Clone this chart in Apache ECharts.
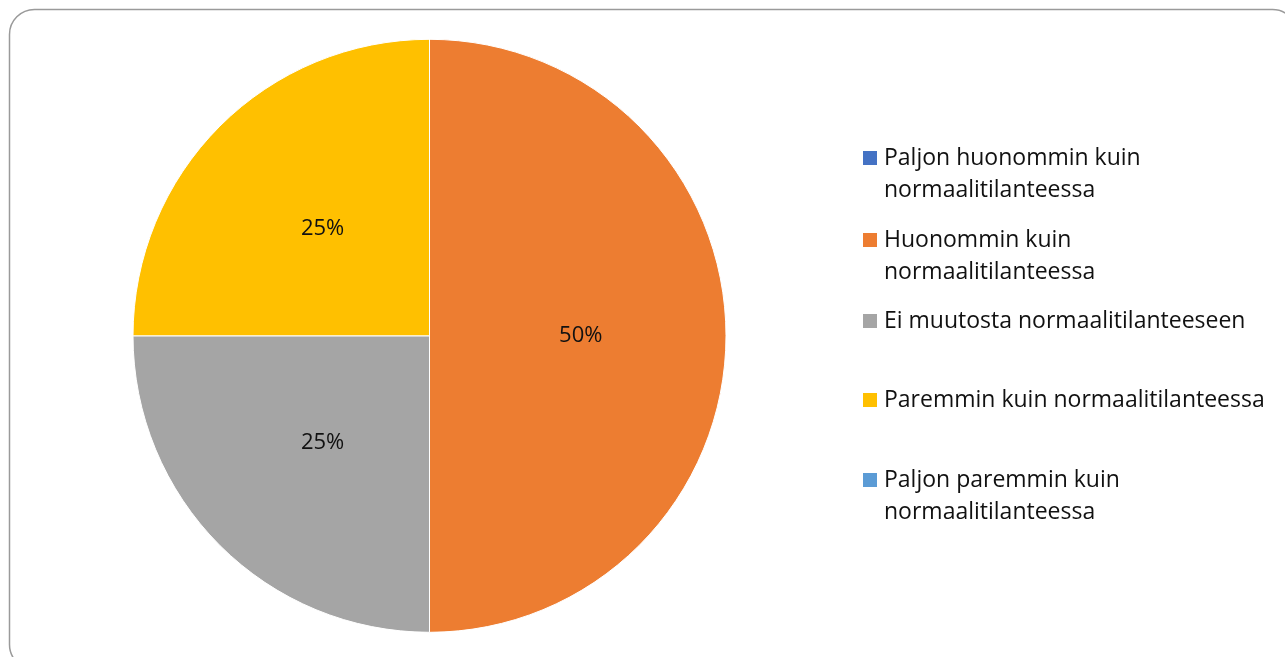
<!DOCTYPE html>
<html>
<head>
<meta charset="utf-8">
<script src="https://cdn.jsdelivr.net/npm/echarts@6/dist/echarts.min.js"></script>
<style>
	html, body { margin: 0; padding: 0; background: #fff; }
	#chart { width: 1285px; height: 657px; }
</style>
</head>
<body>
<div id="chart"></div>
<script>
// luokat ja osuudet (%)
var categories = [
	"Paljon huonommin kuin\nnormaalitilanteessa",
	"Huonommin kuin\nnormaalitilanteessa",
	"Ei muutosta normaalitilanteeseen",
	"Paremmin kuin normaalitilanteessa",
	"Paljon paremmin kuin\nnormaalitilanteessa"
];
var values = [0, 50, 25, 25, 0];
var colors = ["#4472C4", "#ED7D31", "#A5A5A5", "#FFC000", "#5B9BD5"];
// selitteen rivien keskikohdat
var legendY = [158, 240, 321, 400, 480];

var LINE_H = 32;
var FONT = "'Open Sans', Lato, sans-serif";

function legends(){
	var list = [];
	for (var i = 0; i < categories.length; i++) {
		var twoLines = categories[i].indexOf("\n") >= 0;
		var blockH = twoLines ? LINE_H * 3 : LINE_H;
		list.push({
			data: [categories[i]],
			orient: 'vertical',
			left: 863,
			top: legendY[i] - blockH / 2,
			padding: 0,
			itemWidth: 14,
			itemHeight: 14,
			icon: 'rect',
			selectedMode: false,
			itemStyle: { borderWidth: 0 },
			// tyhjä rivi ylös, jotta ensimmäinen rivi on ikonin kohdalla
			formatter: twoLines ? function(name){ return '\n' + name; } : '{name}',
			textStyle: {
				fontFamily: FONT,
				fontSize: 23,
				color: '#111',
				lineHeight: LINE_H,
				padding: [0, 0, 0, 2]
			}
		});
	}
	return list;
}

var myChart = echarts.init(document.getElementById('chart'));
var data = [];
for (var i = 0; i < categories.length; i++) {
	data.push({ name: categories[i], value: values[i], itemStyle: { color: colors[i] } });
}
var option = {
	animation: false,
	legend: legends(),
	graphic: [{
		type: 'rect',
		shape: { x: 9.5, y: 9.5, width: 1288, height: 660, r: 25 },
		style: { fill: 'none', stroke: '#9a9a9a', lineWidth: 1.5 },
		silent: true
	}],
	series: [{
		type: 'pie',
		center: [429.5, 335.8],
		radius: [0, 296.5],
		startAngle: 90,
		clockwise: true,
		avoidLabelOverlap: false,
		data: data,
		itemStyle: { borderColor: '#fff', borderWidth: 1 },
		label: {
			show: true,
			position: 'inside',
			fontFamily: FONT,
			fontSize: 22,
			color: '#111',
			formatter: function(p){ return p.value > 0 ? p.value + '%' : ''; }
		},
		labelLine: { show: false },
		emphasis: { disabled: true }
	}]
};
myChart.setOption(option);
</script>
</body>
</html>
